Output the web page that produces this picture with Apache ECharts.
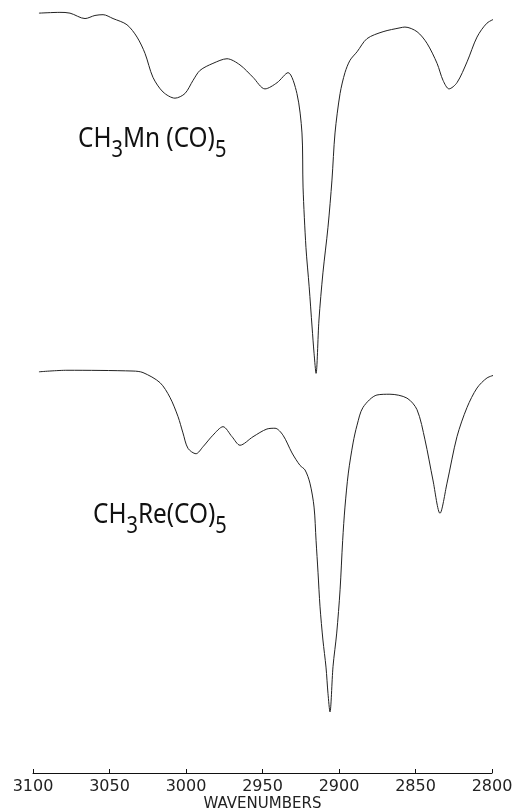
<!DOCTYPE html>
<html><head><meta charset="utf-8">
<script src="https://cdn.jsdelivr.net/npm/echarts@6/dist/echarts.min.js"></script>
<style>html,body{margin:0;padding:0;background:#fff}#c{width:513px;height:811px}</style>
</head><body><div id="c"></div>
<script>
// CH3Mn(CO)5 spectrum: wavenumber (cm-1) and relative transmittance (% of plot height)
const mnWavenumber = [3096.1,3082.4,3075.8,3066.0,3059.5,3054.2,3047.7,3038.6,3032.0,3026.8,3021.6,3015.0,3007.2,3000.7,2995.4,2990.8,2982.4,2973.2,2964.7,2956.2,2948.4,2940.5,2933.3,2927.5,2924.2,2923.5,2921.6,2919.5,2917.6,2916.3,2915.0,2913.1,2910.5,2907.2,2904.6,2902.6,2899.3,2896.1,2892.8,2888.2,2881.7,2871.2,2860.1,2856.9,2849.0,2842.5,2835.9,2832.0,2828.1,2822.9,2816.3,2809.8,2803.3,2796.7];
const mnTransmittance = [98.3,98.4,98.3,97.6,98.0,98.1,97.6,96.8,95.2,93.1,90.0,88.1,87.3,87.9,89.6,90.9,91.8,92.4,91.6,90.0,88.5,89.3,90.6,87.9,82.8,75.8,68.0,62.9,57.7,54.3,51.7,58.6,64.7,70.6,76.7,82.8,87.9,90.6,92.2,93.3,95.0,95.9,96.4,96.5,95.9,94.4,91.8,89.6,88.5,89.3,92.0,95.2,97.0,97.7];
// CH3Re(CO)5 spectrum
const reWavenumber = [3096.1,3077.8,3034.6,3028.1,3017.0,3010.5,3005.2,3002.0,2998.7,2993.5,2988.9,2982.4,2975.8,2969.9,2964.7,2956.2,2947.1,2941.8,2936.6,2930.7,2925.5,2922.2,2919.0,2916.3,2915.0,2913.7,2912.4,2910.5,2908.5,2907.2,2905.9,2903.9,2901.5,2899.3,2897.6,2896.1,2893.9,2890.8,2888.2,2884.3,2875.2,2866.7,2855.6,2849.0,2843.8,2838.6,2834.0,2829.4,2822.9,2816.3,2809.8,2803.3,2798.0];
const reTransmittance = [51.9,52.1,52.0,51.8,50.5,48.6,46.1,44.0,42.0,41.3,42.2,43.7,44.8,43.5,42.4,43.5,44.5,44.6,43.7,41.4,39.8,39.2,37.5,34.4,30.1,25.9,21.5,17.2,13.7,10.3,7.9,13.8,18.1,23.7,30.1,34.4,38.8,42.7,45.0,47.3,48.9,49.0,48.5,47.0,43.1,37.9,33.6,37.5,43.5,47.3,49.8,51.1,51.5];
const tickValues = [3100,3050,3000,2950,2900,2850,2800];
const axisTitle = 'WAVENUMBERS';
// [text, isSubscript]
const mnLabel = [['CH',false],['3',true],['Mn (CO)',false],['5',true]];
const reLabel = [['CH',false],['3',true],['Re(CO)',false],['5',true]];

const pair = (xs, ys) => xs.map((x, i) => [x, ys[i]]);
const labelFamily = '"Noto Sans","DejaVu Sans",sans-serif';
const mainSize = 28, subSize = 23, subDrop = 11;
const measureCtx = document.createElement('canvas').getContext('2d');
function formulaGroup(parts, x, y, sx) {
  let cx = 0;
  const children = parts.map(([t, sub]) => {
    const size = sub ? subSize : mainSize;
    measureCtx.font = size + 'px ' + labelFamily;
    const el = {type: 'text', x: cx, y: sub ? subDrop : 0,
      style: {text: t, fontFamily: labelFamily, fontSize: size, fill: '#111', align: 'left', verticalAlign: 'middle'}};
    cx += measureCtx.measureText(t).width;
    return el;
  });
  return {type: 'group', x: x, y: y, scaleX: sx, children: children};
}

const chart = echarts.init(document.getElementById('c'), null, {renderer: 'canvas'});
chart.setOption({
  animation: false,
  backgroundColor: '#fff',
  grid: {left: 33, right: 21, top: 0, bottom: 38, containLabel: false, outerBoundsMode: 'none'},
  xAxis: {
    type: 'value', inverse: true, min: 2800, max: 3100, interval: 50,
    axisLine: {show: true, lineStyle: {color: '#111', width: 1}},
    axisTick: {show: true, inside: true, length: 4, lineStyle: {color: '#111'}},
    splitLine: {show: false},
    axisLabel: {
      color: '#222', fontFamily: '"DejaVu Sans",sans-serif', fontSize: 16, margin: 6,
      formatter: v => tickValues.includes(v) ? String(v) : ''
    },
    name: axisTitle, nameLocation: 'middle', nameGap: 24, nameMoveOverlap: false,
    nameTextStyle: {color: '#222', fontFamily: '"DejaVu Sans",sans-serif', fontSize: 15}
  },
  yAxis: {type: 'value', min: 0, max: 100, show: false},
  series: [
    {type: 'line', data: pair(mnWavenumber, mnTransmittance), showSymbol: false, smooth: 0.3, clip: false,
     lineStyle: {color: '#222', width: 1}},
    {type: 'line', data: pair(reWavenumber, reTransmittance), showSymbol: false, smooth: 0.3, clip: false,
     lineStyle: {color: '#222', width: 1}}
  ],
  graphic: [
    formulaGroup(mnLabel, 78, 139, 0.87),
    formulaGroup(reLabel, 93, 515, 0.87)
  ]
});
</script></body></html>
